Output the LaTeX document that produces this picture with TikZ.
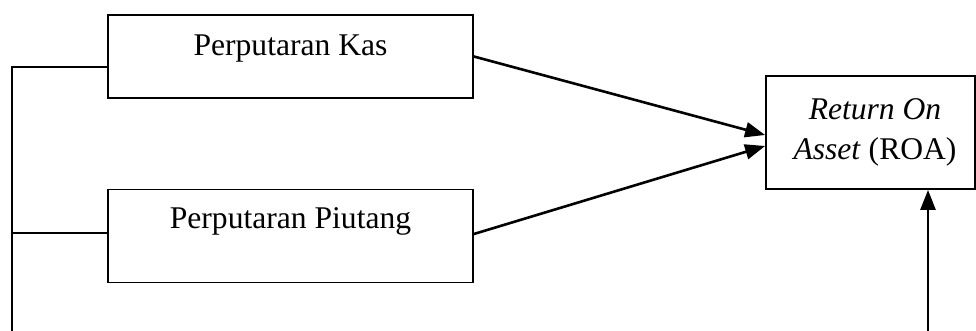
\documentclass[tikz,border=0pt]{standalone}
\usepackage{fontspec}
\setmainfont{Liberation Serif}
\usetikzlibrary{arrows.meta,calc}
\begin{document}
\begin{tikzpicture}[x=1pt,y=1pt,
  box/.style={draw, line width=1.8pt, inner sep=0pt, align=center,
    font=\fontsize{31.6}{40}\selectfont},
  arr/.style={line width=2.6pt, -{Triangle[length=20pt,width=15pt]}},
  link/.style={line width=2pt}]
\useasboundingbox (0,0) rectangle (976,331);
\node[box, minimum width=365pt, minimum height=83pt, text height=22pt, text depth=23pt] (kas) at (290.5,274.5) {Perputaran Kas};
\node[box, minimum width=365pt, minimum height=93pt, text height=22pt, text depth=36pt] (piu) at (290.5,95) {Perputaran Piutang};
\node[box, minimum width=209pt, minimum height=113pt] (roa) at (870.5,198.5) {\hspace*{9pt}\textit{Return On}\\\hspace*{9pt}\textit{Asset} (ROA)};
\coordinate (lb) at (12,0);
\coordinate (rb) at (928,0);
\coordinate (kj) at ($(kas.west)+(0,-10.5)$);
\coordinate (pj) at ($(piu.west)+(0,3)$);
\draw[link] (kj) -| (lb);
\draw[link] (pj) -- (pj -| lb);
\draw[arr] (kas.east) -- ($(roa.west)+(0,-2.5)$);
\draw[arr] ($(piu.east)+(0,2)$) -- ($(roa.west)+(0,-13.5)$);
\draw[arr] (rb) -- (rb |- roa.south);
\end{tikzpicture}
\end{document}
